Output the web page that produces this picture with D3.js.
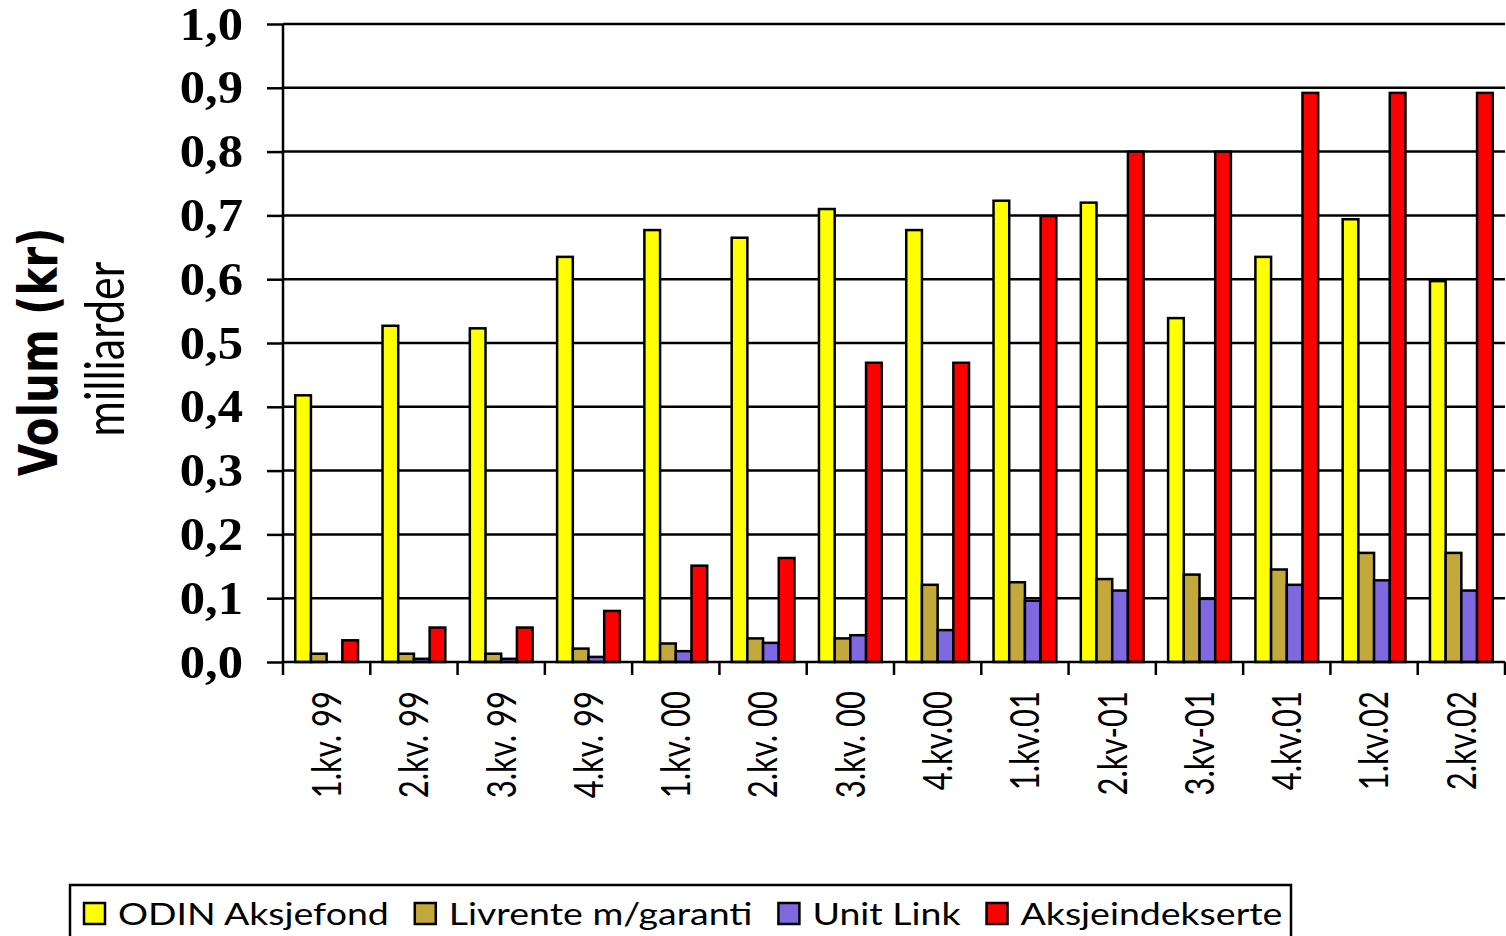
<!DOCTYPE html>
<html>
<head>
<meta charset="utf-8">
<script src="https://cdn.jsdelivr.net/npm/d3@7"></script>
<style>
  html, body { margin: 0; padding: 0; background: #fff; }
  svg { display: block; }
</style>
</head>
<body>
<div class="chart"></div>
<script>
// quarters on the x axis
var quarters = ["1.kv. 99", "2.kv. 99", "3.kv. 99", "4.kv. 99", "1.kv. 00", "2.kv. 00", "3.kv. 00",
                "4.kv.00", "1.kv.01", "2.kv-01", "3.kv-01", "4.kv.01", "1.kv.02", "2.kv.02"];

// volume in billions (milliarder kr)
var odin       = [0.418, 0.527, 0.523, 0.635, 0.677, 0.665, 0.710, 0.677, 0.723, 0.720, 0.539, 0.635, 0.694, 0.597];
var livrente   = [0.013, 0.013, 0.013, 0.021, 0.029, 0.037, 0.037, 0.121, 0.125, 0.130, 0.137, 0.145, 0.171, 0.171];
var unitLink   = [0.000, 0.005, 0.005, 0.008, 0.017, 0.030, 0.042, 0.050, 0.096, 0.112, 0.099, 0.121, 0.128, 0.112];
var aksjeindex = [0.034, 0.054, 0.054, 0.080, 0.151, 0.163, 0.469, 0.469, 0.699, 0.800, 0.800, 0.892, 0.892, 0.892];

var seriesNames = ["ODIN Aksjefond", "Livrente m/garanti", "Unit Link", "Aksjeindekserte"];
var seriesColors = ["#FFFF00", "#C3A93C", "#8068E0", "#FF0000"];
var yTicks = [0, 0.1, 0.2, 0.3, 0.4, 0.5, 0.6, 0.7, 0.8, 0.9, 1.0];

(function drawChart() {
	"use strict";
	var width = 1506;
	var height = 936;
	var SX = 1.28; // text in the original is drawn wide
	var plot = { left: 283, right: 1505, top: 24, bottom: 662 };
	var values = [odin, livrente, unitLink, aksjeindex];

	var svg = d3.select(".chart")
				.append("svg")
				.attr("width", width)
				.attr("height", height);

	var xScale = d3.scaleBand()
				   .domain(quarters)
				   .range([plot.left, plot.right])
				   .paddingInner(0)
				   .paddingOuter(0);

	var inner = d3.scaleBand()
				  .domain(seriesNames)
				  .range([0, xScale.bandwidth()])
				  .paddingInner(0)
				  .paddingOuter(0.78);

	var yScale = d3.scaleLinear()
				   .domain([0, 1])
				   .range([plot.bottom, plot.top]);

	var fmt = function(v) { return d3.format(".1f")(v).replace(".", ","); };

	// gridlines
	svg.append("g")
	   .selectAll("line")
	   .data(yTicks.slice(1))
	   .enter()
	   .append("line")
	   .attr("x1", plot.left)
	   .attr("x2", plot.right)
	   .attr("y1", function(d) { return yScale(d); })
	   .attr("y2", function(d) { return yScale(d); })
	   .attr("stroke", "#000")
	   .attr("stroke-width", 2.5);

	// bars
	var groups = svg.append("g")
					.selectAll("g")
					.data(quarters)
					.enter()
					.append("g")
					.attr("transform", function(d) { return "translate(" + xScale(d) + ",0)"; });

	groups.selectAll("rect")
		  .data(function(d, i) {
		  	return seriesNames.map(function(name, s) {
		  		return { name: name, value: values[s][i], color: seriesColors[s] };
		  	});
		  })
		  .enter()
		  .filter(function(d) { return d.value > 0; })
		  .append("rect")
		  .attr("x", function(d) { return inner(d.name); })
		  .attr("y", function(d) { return yScale(d.value); })
		  .attr("width", inner.bandwidth())
		  .attr("height", function(d) { return plot.bottom - yScale(d.value); })
		  .attr("fill", function(d) { return d.color; })
		  .attr("stroke", "#000")
		  .attr("stroke-width", 2.5);

	// y axis
	var yAxis = d3.axisLeft(yScale)
				  .tickValues(yTicks)
				  .tickSize(16)
				  .tickPadding(0)
				  .tickFormat(fmt);

	var gy = svg.append("g")
				.attr("transform", "translate(" + plot.left + ",0)")
				.call(yAxis);
	gy.select(".domain").attr("stroke-width", 2.5).attr("d", "M0," + plot.top + "V" + plot.bottom);
	gy.selectAll(".tick line").attr("stroke-width", 2.5);
	gy.selectAll(".tick text")
	  .attr("x", null)
	  .attr("dy", null)
	  .attr("text-anchor", "end")
	  .attr("font-family", "'Liberation Serif', 'Times New Roman', serif")
	  .attr("font-weight", "bold")
	  .attr("font-size", 46)
	  .attr("fill", "#000")
	  .attr("transform", "translate(-40,15) scale(1.1,1)");

	// x axis
	var xAxis = d3.axisBottom(xScale)
				  .tickSize(0)
				  .tickFormat("");
	var gx = svg.append("g")
				.attr("transform", "translate(0," + plot.bottom + ")")
				.call(xAxis);
	gx.select(".domain").attr("stroke-width", 2.5).attr("d", "M" + plot.left + ",0H" + plot.right);

	var boundaries = quarters.map(function(q) { return xScale(q); }).concat([plot.right]);
	gx.selectAll(".sep")
	  .data(boundaries)
	  .enter()
	  .append("line")
	  .attr("class", "sep")
	  .attr("x1", function(d) { return d; })
	  .attr("x2", function(d) { return d; })
	  .attr("y1", 0)
	  .attr("y2", 13)
	  .attr("stroke", "#000")
	  .attr("stroke-width", 2.5);

	svg.append("g")
	   .selectAll("text")
	   .data(quarters)
	   .enter()
	   .append("text")
	   .attr("transform", function(d) {
	   	return "translate(" + (xScale(d) + xScale.bandwidth() / 2) + ",691) scale(" + SX + ",1) rotate(-90)";
	   })
	   .attr("dy", "0.36em")
	   .attr("text-anchor", "end")
	   .attr("font-family", "Lato, 'Noto Sans', sans-serif")
	   .attr("font-size", 31)
	   .attr("fill", "#000")
	   .text(function(d) { return d; });

	// y axis titles
	svg.append("text")
	   .attr("transform", "translate(38,352) scale(" + SX + ",1) rotate(-90)")
	   .attr("dy", "0.36em")
	   .attr("text-anchor", "middle")
	   .attr("font-family", "'DejaVu Sans', Verdana, sans-serif")
	   .attr("font-weight", "bold")
	   .attr("font-size", 42)
	   .text("Volum (kr)");

	svg.append("text")
	   .attr("transform", "translate(104,349) scale(" + SX + ",1) rotate(-90)")
	   .attr("dy", "0.36em")
	   .attr("text-anchor", "middle")
	   .attr("font-family", "Lato, 'Noto Sans', sans-serif")
	   .attr("font-size", 43)
	   .text("milliarder");

	// legend
	var LSX = 1.25;
	var legend = svg.append("g");
	legend.append("rect")
		  .attr("x", 70)
		  .attr("y", 885)
		  .attr("width", 1221)
		  .attr("height", 80)
		  .attr("fill", "#fff")
		  .attr("stroke", "#000")
		  .attr("stroke-width", 2.5);

	var lx = 84;
	seriesNames.forEach(function(name, i) {
		legend.append("rect")
			  .attr("x", lx)
			  .attr("y", 903)
			  .attr("width", 21)
			  .attr("height", 21)
			  .attr("fill", seriesColors[i])
			  .attr("stroke", "#000")
			  .attr("stroke-width", 2.5);
		var t = legend.append("text")
					  .attr("transform", "translate(" + (lx + 34) + ",925) scale(" + LSX + ",1)")
					  .attr("font-family", "Lato, 'Noto Sans', sans-serif")
					  .attr("font-size", 30)
					  .text(name);
		lx = lx + 34 + t.node().getComputedTextLength() * LSX + 26;
	});
}());
</script>
</body>
</html>
